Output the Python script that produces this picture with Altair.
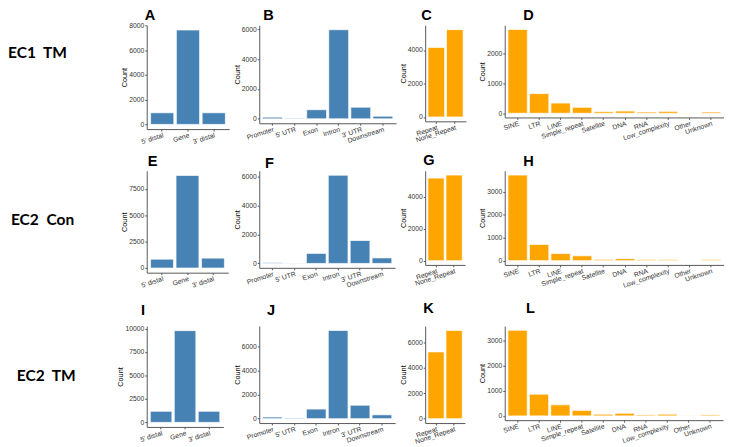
import altair as alt
import pandas as pd

BLUE = "#4682B4"
ORANGE = "#FFA500"

# ---------------- categories ----------------
region_cats = ["5' distal", "Gene", "3' distal"]
feature_cats = ["Promoter", "5' UTR", "Exon", "Intron", "3' UTR", "Downstream"]
repeat_cats = ["Repeat", "None_Repeat"]
family_cats = ["SINE", "LTR", "LINE", "Simple_repeat", "Satellite", "DNA",
               "RNA", "Low_complexity", "Other", "Unknown"]

row_labels = ["EC1\u00a0\u00a0TM", "EC2\u00a0\u00a0Con", "EC2\u00a0\u00a0TM"]
panel_letters = ["A", "B", "C", "D", "E", "F", "G", "H", "I", "J", "K", "L"]

# ---------------- values ----------------
# row 1: EC1 TM
A_vals = [940, 7650, 940]
B_vals = [110, 46, 610, 5980, 780, 175]
C_vals = [4160, 5220]
D_vals = [2800, 656, 340, 200, 54, 73, 41, 63, 5, 41]
# row 2: EC2 Con
E_vals = [840, 8780, 940]
F_vals = [50, 20, 690, 6080, 1580, 380]
G_vals = [5190, 5380]
H_vals = [3740, 707, 310, 212, 55, 85, 42, 42, 5, 40]
# row 3: EC2 TM
I_vals = [1180, 9780, 1180]
J_vals = [135, 50, 800, 7360, 1120, 320]
K_vals = [5240, 6925]
L_vals = [3430, 869, 442, 221, 66, 105, 39, 66, 10, 39]

# ---------------- y tick labels ----------------
A_ticks = [0, 2000, 4000, 6000, 8000]
B_ticks = [0, 2000, 4000, 6000]
C_ticks = [0, 2000, 4000]
D_ticks = [0, 1000, 2000]
E_ticks = [0, 2500, 5000, 7500]
F_ticks = [0, 2000, 4000, 6000]
G_ticks = [0, 2000, 4000]
H_ticks = [0, 1000, 2000, 3000]
I_ticks = [0, 2500, 5000, 7500, 10000]
J_ticks = [0, 2000, 4000, 6000]
K_ticks = [0, 2000, 4000, 6000]
L_ticks = [0, 1000, 2000, 3000]

# ---------------- layout (sizes / offsets only) ----------------
# per row: label width, label height, label text x, label text y
row_layout = [(127, 150, 0, 34), (134, 160, 3, 56), (143, 100, 9, 57)]
# per panel: width, height, letter x, letter top (relative to plot top)
panel_layout = [
    (85, 107, -2, -17), (141, 101, 4, -17), (42, 99, -4, -17), (226, 95, 19, -17),
    (84, 105, 1, -17), (140, 100, 6, -15), (41, 97, -2, -18), (226, 97, 19, -17),
    (79, 104, -6, -23), (140, 100, 8, -23), (41, 100, -2, -25), (225, 97, 22, -25),
]
# gaps between panels, per row
gap_layout = [(29, 29, 36), (31, 28, 40), (28, 30, 37)]

LABEL_FONT = "Liberation Sans"


def panel(letter, cats, vals, color, ticks, lay):
    w, h, lx, ly = lay
    df = pd.DataFrame({"cat": cats, "val": vals})
    m = max(vals)
    dom = [-0.05 * m, 1.05 * m]
    bars = alt.Chart(df).mark_bar(color=color, stroke="white", strokeWidth=0.7).encode(
        x=alt.X(
            "cat:N", sort=cats, title=None,
            scale=alt.Scale(paddingInner=0.1, paddingOuter=0.15),
            axis=alt.Axis(labelAngle=342, labelAlign="right", labelBaseline="top",
                          labelPadding=0, tickSize=2, labelOverlap=False,
                          labelBound=False, labelFontSize=7),
        ),
        y=alt.Y(
            "val:Q", title="Count",
            scale=alt.Scale(domain=dom, nice=False, zero=False),
            axis=alt.Axis(values=ticks, format="d", tickSize=2, labelPadding=1,
                          titlePadding=0, labelFontSize=7),
        ),
        y2=alt.datum(0),
    )
    tag = alt.Chart(pd.DataFrame({"t": [letter]})).mark_text(
        align="left", baseline="top", font=LABEL_FONT, fontSize=15,
        fontWeight="bold", color="black",
    ).encode(text="t:N", x=alt.value(lx), y=alt.value(ly))
    return alt.layer(bars, tag).properties(width=w, height=h)


def spacer(w):
    return alt.Chart(pd.DataFrame({"v": [0]})).mark_point(opacity=0, size=1).encode(
        x=alt.value(0), y=alt.value(0)
    ).properties(width=w, height=1)


def row_label(text, lay):
    w, h, tx, ty = lay
    return alt.Chart(pd.DataFrame({"t": [text]})).mark_text(
        align="left", baseline="alphabetic", font="Lato", fontSize=16,
        fontWeight="bold", color="black",
    ).encode(text="t:N", x=alt.value(tx), y=alt.value(ty)).properties(width=w, height=h)


rows = [
    [(region_cats, A_vals, BLUE, A_ticks), (feature_cats, B_vals, BLUE, B_ticks),
     (repeat_cats, C_vals, ORANGE, C_ticks), (family_cats, D_vals, ORANGE, D_ticks)],
    [(region_cats, E_vals, BLUE, E_ticks), (feature_cats, F_vals, BLUE, F_ticks),
     (repeat_cats, G_vals, ORANGE, G_ticks), (family_cats, H_vals, ORANGE, H_ticks)],
    [(region_cats, I_vals, BLUE, I_ticks), (feature_cats, J_vals, BLUE, J_ticks),
     (repeat_cats, K_vals, ORANGE, K_ticks), (family_cats, L_vals, ORANGE, L_ticks)],
]

cells = []
for r, row in enumerate(rows):
    cells.append(row_label(row_labels[r], row_layout[r]))
    for c, (cats, vals, color, ticks) in enumerate(row):
        k = r * 4 + c
        cells.append(panel(panel_letters[k], cats, vals, color, ticks, panel_layout[k]))
        if c < 3:
            cells.append(spacer(gap_layout[r][c]))

chart = alt.concat(
    *cells, columns=8, spacing=0, bounds="flush",
    align={"row": "each", "column": "none"},
).properties(
    padding={"top": -6, "left": 0, "right": 0, "bottom": 0}
).configure_view(stroke=None).configure_axis(
    grid=False,
    domainColor="#555555", tickColor="#555555", domainWidth=1, tickWidth=1,
    labelFont=LABEL_FONT, labelColor="#333333",
    titleFont=LABEL_FONT, titleFontSize=7.5, titleFontWeight="normal", titleColor="black",
)

chart.save("out.html", embed_options={"renderer": "svg", "actions": False})
